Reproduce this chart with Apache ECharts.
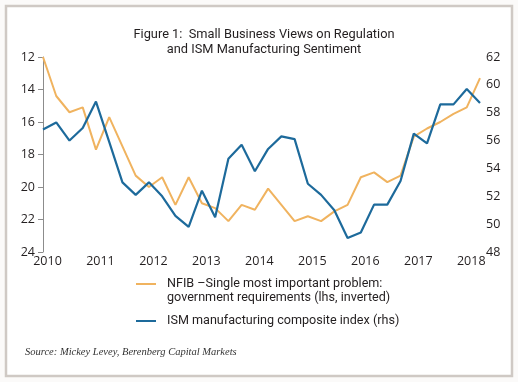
<!DOCTYPE html>
<html>
<head>
<meta charset="utf-8">
<script src="https://cdn.jsdelivr.net/npm/echarts@6/dist/echarts.min.js"></script>
<style>
html,body{margin:0;padding:0;background:#fbfaf9;}
#c{width:518px;height:382px;}
</style>
</head>
<body>
<div id="c"></div>
<script>
// Quarterly observations, 2010Q1 .. 2018Q2
const quarters = ['2010Q1','2010Q2','2010Q3','2010Q4','2011Q1','2011Q2','2011Q3','2011Q4',
  '2012Q1','2012Q2','2012Q3','2012Q4','2013Q1','2013Q2','2013Q3','2013Q4',
  '2014Q1','2014Q2','2014Q3','2014Q4','2015Q1','2015Q2','2015Q3','2015Q4',
  '2016Q1','2016Q2','2016Q3','2016Q4','2017Q1','2017Q2','2017Q3','2017Q4',
  '2018Q1','2018Q2'];
// NFIB: % citing government requirements as single most important problem (lhs, inverted)
const nfib = [12.0,14.4,15.4,15.1,17.7,15.7,17.5,19.3,
  20.0,19.4,21.1,19.4,21.0,21.3,22.1,21.1,
  21.4,20.1,21.1,22.1,21.8,22.1,21.5,21.1,
  19.4,19.1,19.7,19.3,16.9,16.4,16.0,15.5,
  15.1,13.3];
// ISM manufacturing composite index (rhs)
const ism = [56.8,57.3,56.0,56.9,58.8,55.9,53.0,52.1,
  53.0,52.0,50.6,49.8,52.4,50.5,54.7,55.7,
  53.8,55.4,56.3,56.1,52.9,52.1,51.0,49.0,
  49.4,51.4,51.4,53.1,56.5,55.8,58.6,58.6,
  59.7,58.7];
const leftTicks = [12,14,16,18,20,22,24];
const rightTicks = [48,50,52,54,56,58,60,62];
const titleText = 'Figure 1:  Small Business Views on Regulation\nand ISM Manufacturing Sentiment';
const nameNfib = 'NFIB –Single most important problem:\ngovernment requirements (lhs, inverted)';
const nameIsm = 'ISM manufacturing composite index (rhs)';
const sourceText = 'Source: Mickey Levey, Berenberg Capital Markets';

const FONT = "'Roboto',sans-serif";
const NUMFONT = "'Open Sans',sans-serif";
const TXT = '#231f20';
const ORANGE = '#f0b35f';
const BLUE = '#1d6a9b';

function legendLabel(n) {
  const lines = n.split('\n').map(function (s) { return '{g|}' + s; });
  if (n === nameNfib) lines.unshift('');
  return lines.join('\n');
}

const chart = echarts.init(document.getElementById('c'), null, {renderer:'canvas'});
chart.setOption({
  animation: false,
  backgroundColor: 'transparent',
  graphic: [
    {type:'rect', z:-10, shape:{x:6,y:6,width:506,height:370},
     style:{fill:'#ffffff', stroke:'#cfc9c4', lineWidth:2.5}},
    {type:'text', left:25, top:347,
     style:{text:sourceText, font:"italic 10.5px 'Liberation Serif', serif", fill:'#333'}}
  ],
  title: {
    text: titleText,
    left: 264,
    textAlign: 'center',
    top: 27,
    padding: 0,
    textStyle: {fontFamily: FONT, fontSize: 12.8, fontWeight: 'normal', lineHeight: 15.5, color: TXT}
  },
  legend: {
    orient: 'vertical',
    left: 131,
    top: 258,
    itemWidth: 20,
    itemHeight: 2,
    itemGap: 9,
    icon: 'rect',
    data: [nameNfib, nameIsm],
    formatter: legendLabel,
    textStyle: {fontFamily: FONT, fontSize: 12.6, lineHeight: 14, color: TXT,
      rich: {g: {width: 6, fontSize: 12.6, lineHeight: 14}}}
  },
  grid: {left: 43, right: 38, top: 57, bottom: 130},
  xAxis: {
    type: 'category',
    data: quarters,
    boundaryGap: false,
    axisLine: {show: false},
    axisTick: {show: false},
    axisLabel: {
      interval: function (i, v) { return v.slice(4) === 'Q1'; },
      formatter: function (v) { return v.slice(0,4); },
      margin: 3,
      padding: [0,0,0,9],
      fontFamily: NUMFONT, fontSize: 12.5, color: TXT
    },
    splitLine: {show: false}
  },
  yAxis: [
    {
      type: 'value', inverse: true,
      min: leftTicks[0], max: leftTicks[leftTicks.length-1], interval: 2,
      axisLine: {show: true, lineStyle: {color: '#8c8c8c', width: 1}},
      axisTick: {show: true, length: 5, lineStyle: {color: '#8c8c8c'}},
      axisLabel: {margin: 8, fontFamily: NUMFONT, fontSize: 12.5, color: TXT},
      splitLine: {show: false}
    },
    {
      type: 'value',
      min: rightTicks[0], max: rightTicks[rightTicks.length-1], interval: 2,
      axisLine: {show: false},
      axisTick: {show: false},
      axisLabel: {margin: 6, fontFamily: NUMFONT, fontSize: 12.5, color: TXT},
      splitLine: {show: false}
    }
  ],
  series: [
    {name: nameNfib, type: 'line', yAxisIndex: 0, data: nfib, showSymbol: false,
     color: ORANGE, lineStyle: {color: ORANGE, width: 2}, z: 2},
    {name: nameIsm, type: 'line', yAxisIndex: 1, data: ism, showSymbol: false,
     color: BLUE, lineStyle: {color: BLUE, width: 2.2}, z: 3}
  ]
});
</script>
</body>
</html>
